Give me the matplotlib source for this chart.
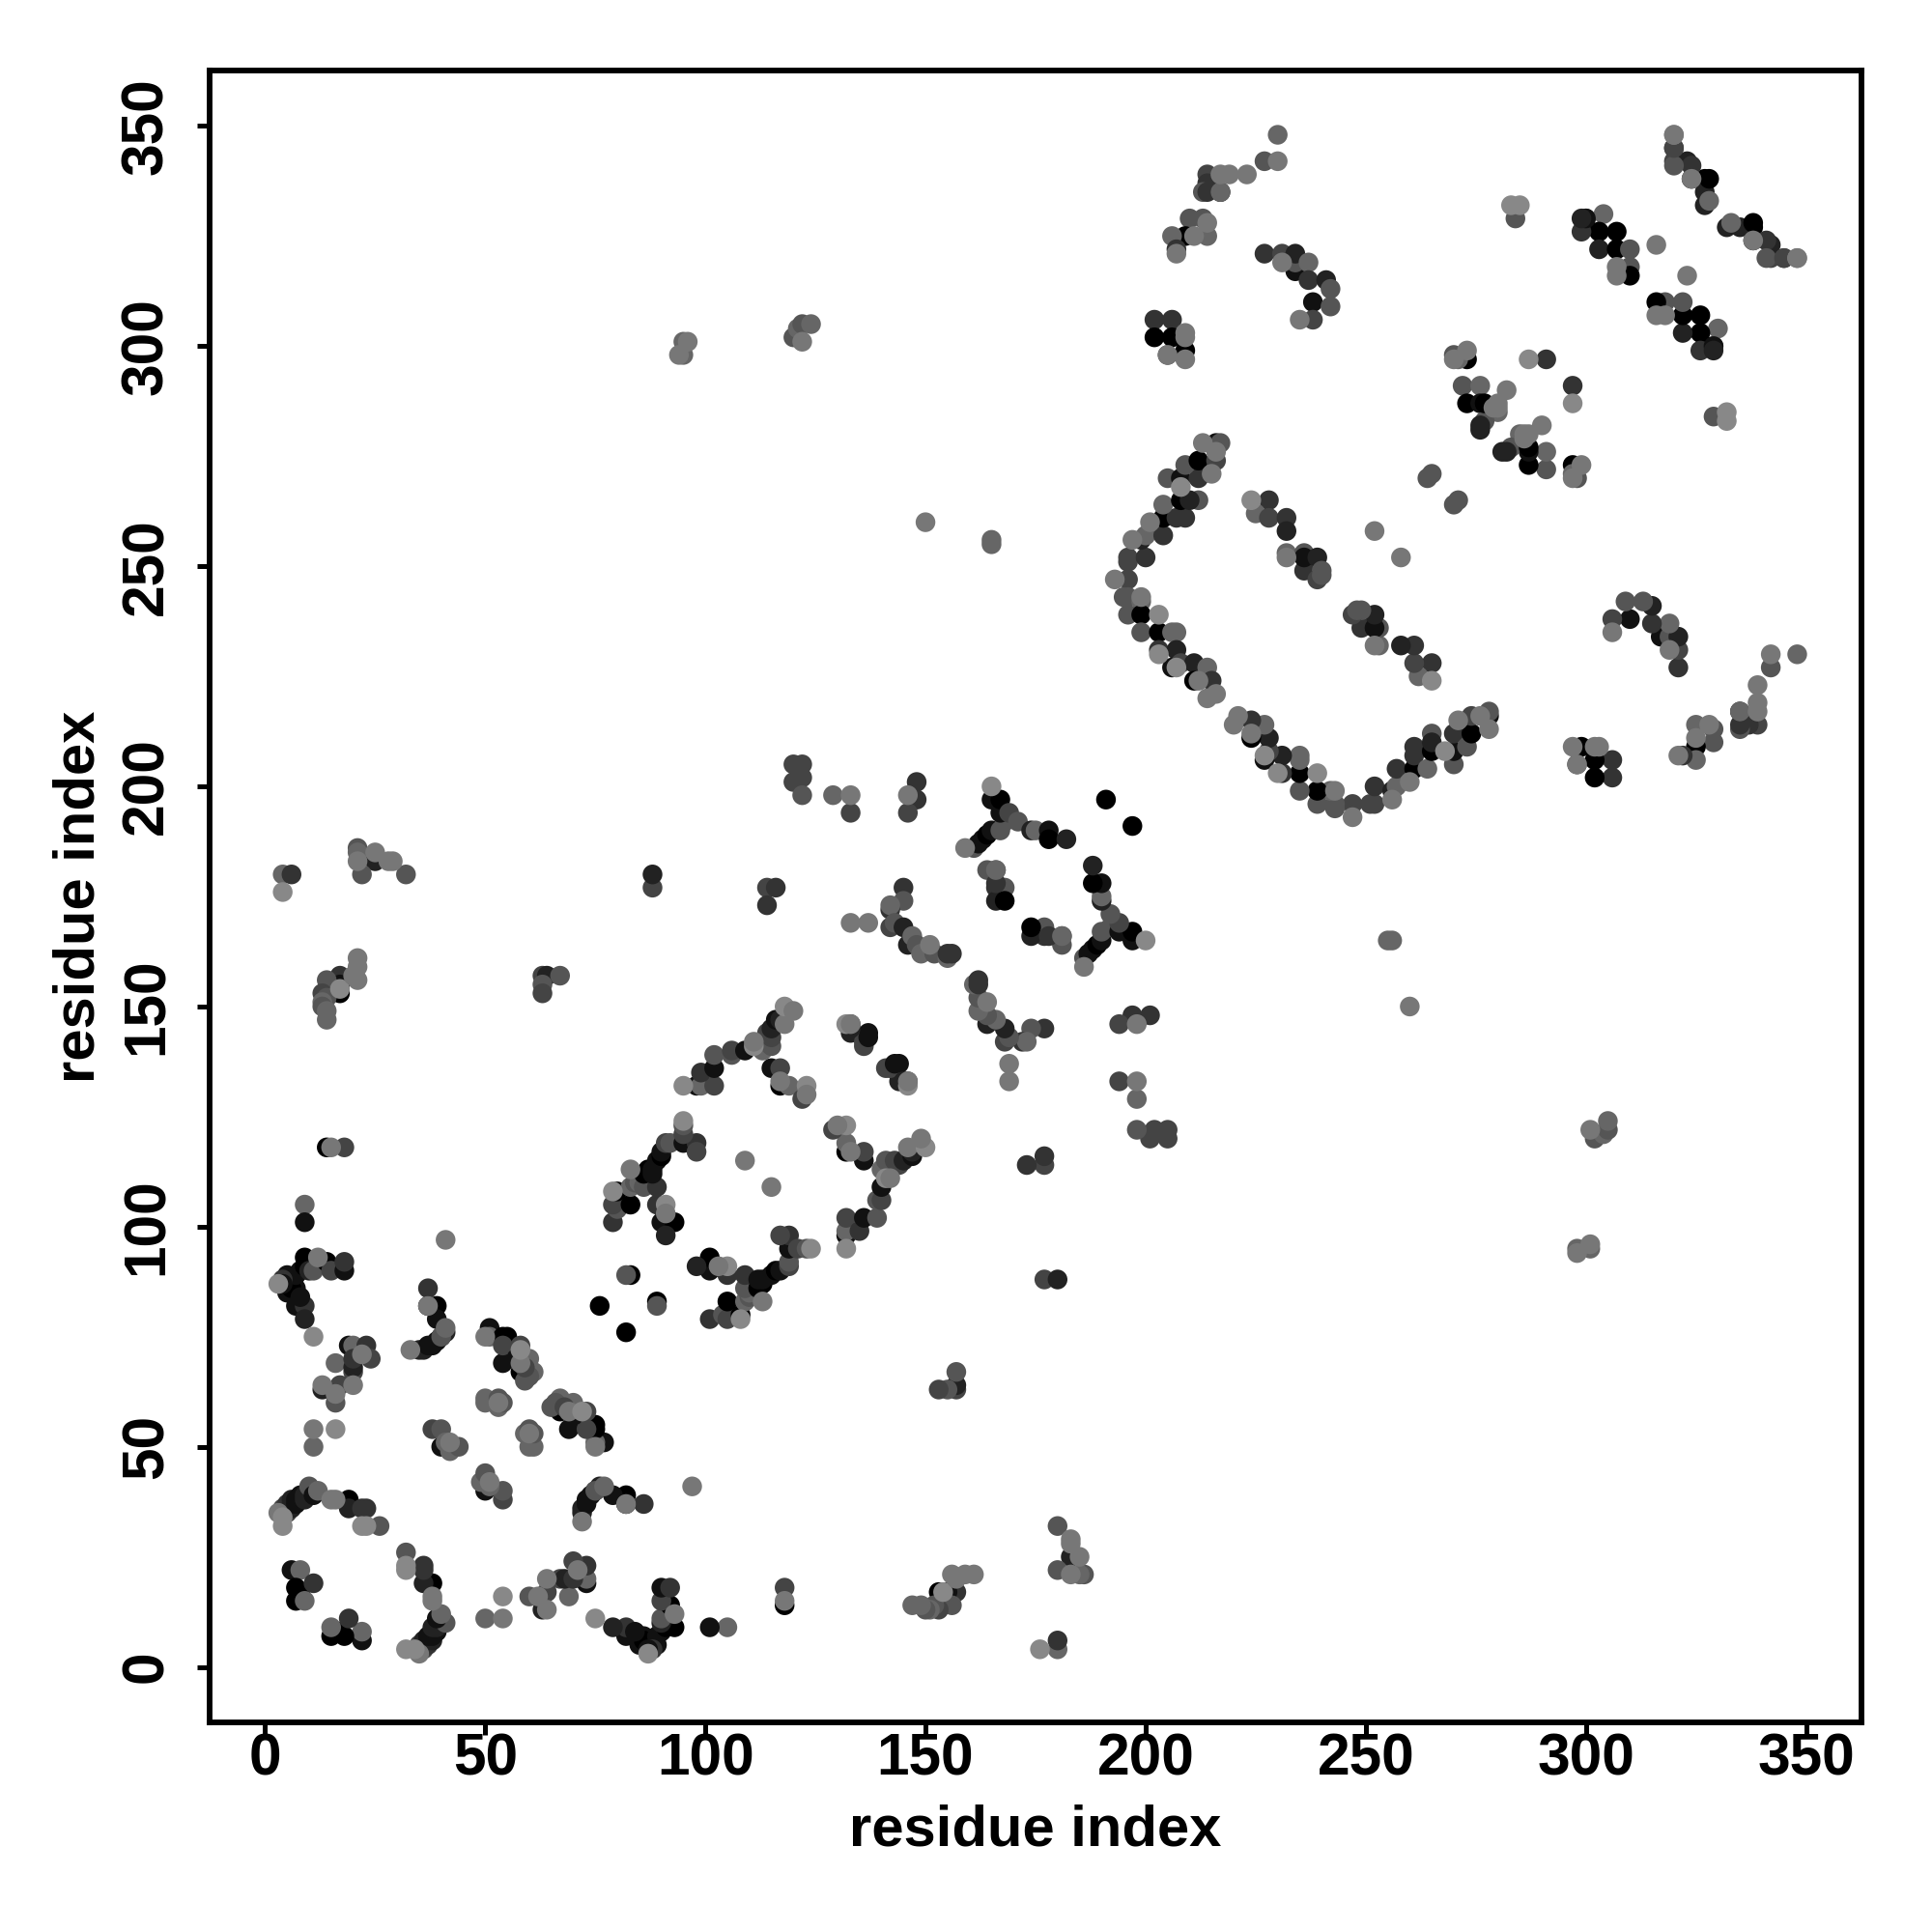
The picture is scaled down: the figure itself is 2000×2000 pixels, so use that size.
#!/usr/bin/env python3
"""Residue contact map, symmetric about the diagonal."""

import matplotlib.pyplot as plt
import numpy as np

# contacts as (residue i, residue j, level), i < j; level 0 (black) .. 9 (light)
far_left = [
    (4, 180, 6), (6, 180, 3), (4, 176, 8), (21, 186, 5), (21, 185, 6), (25, 185, 7), (25, 183, 2),
    (21, 183, 7), (22, 180, 5), (28, 183, 7), (29, 183, 7), (32, 180, 5),
    (17, 157, 3), (17, 155, 1), (17, 153, 0), (17, 154, 8), (14, 156, 5), (13, 153, 4), (14, 152, 5),
    (13, 151, 6), (13, 150, 5), (14, 149, 6), (14, 147, 6), (21, 161, 7), (21, 159, 7), (21, 156, 7),
    (20, 157, 7), (14, 118, 0), (15, 118, 7), (18, 118, 4),
    (63, 157, 4), (64, 157, 2), (67, 157, 5), (63, 155, 5), (63, 153, 4), (88, 177, 4), (88, 180, 2),
    (9, 105, 6), (9, 101, 1), (41, 97, 7), (11, 75, 8),
]
first_arc = [
    (7, 86, 1), (5, 85, 1), (5, 89, 1), (6, 86, 0), (7, 89, 1), (8, 90, 1), (9, 91, 0), (10, 92, 1),
    (9, 93, 0), (10, 90, 2), (3, 87, 8), (4, 88, 3), (4, 87, 1), (7, 82, 1), (9, 82, 3), (9, 79, 2),
    (8, 84, 1), (11, 90, 5), (14, 92, 0), (15, 90, 4), (12, 93, 7), (18, 90, 1), (18, 92, 3),
]
second_block = [
    (16, 69, 6), (13, 63, 2), (13, 64, 7), (16, 60, 5), (16, 62, 7), (17, 64, 4), (20, 64, 7), (20, 67, 4),
    (20, 68, 2), (19, 73, 1), (20, 73, 6), (23, 73, 3), (20, 70, 3), (24, 70, 4), (22, 71, 7),
    (37, 86, 3), (37, 82, 0), (39, 82, 0), (37, 82, 7), (39, 79, 1), (33, 72, 7), (35, 72, 2), (36, 72, 2),
    (37, 73, 1), (38, 73, 1), (39, 74, 1), (40, 75, 1), (41, 76, 2), (40, 75, 5), (41, 77, 6),
    (51, 77, 1), (50, 75, 7), (51, 75, 6), (54, 75, 0), (55, 75, 0), (54, 69, 1), (54, 73, 4), (58, 73, 4),
    (58, 69, 7), (59, 69, 4), (59, 67, 4), (58, 67, 0), (61, 67, 6), (59, 65, 5), (60, 66, 5), (60, 70, 6),
    (57, 70, 1), (58, 72, 8), (59, 68, 4),
    (11, 54, 7), (16, 54, 8), (11, 50, 6), (38, 54, 4), (40, 54, 5), (40, 50, 1), (41, 51, 6), (42, 51, 7),
    (42, 49, 6), (44, 50, 5), (50, 60, 6), (50, 61, 6), (53, 59, 6), (53, 61, 5), (53, 60, 7), (54, 60, 5),
]
n_term = [
    (4, 32, 8), (3, 35, 7), (4, 34, 8), (4, 36, 4), (5, 35, 4), (5, 37, 3), (6, 36, 2), (6, 37, 2), (6, 38, 2),
    (7, 37, 1), (7, 38, 1), (8, 38, 1), (8, 39, 1), (9, 38, 2), (9, 39, 2), (10, 41, 5), (11, 39, 1), (12, 40, 6),
    (15, 38, 7), (16, 38, 7), (19, 38, 0), (19, 36, 2), (22, 36, 3), (23, 36, 3), (22, 32, 8), (23, 32, 8), (26, 32, 5),
    (6, 22, 1), (8, 22, 6), (7, 18, 0), (8, 17, 0), (11, 19, 3), (7, 15, 0), (9, 15, 6),
]
helix_pairs = [
    (76, 82, 0), (83, 89, 0), (82, 89, 5),
    (79, 101, 3), (80, 104, 5), (79, 105, 4), (83, 105, 0), (80, 108, 0), (79, 108, 8), (83, 109, 6), (84, 110, 5),
    (85, 110, 6), (86, 109, 5), (89, 109, 3), (83, 113, 7), (86, 112, 0), (87, 113, 0), (88, 112, 1), (88, 113, 1),
    (89, 115, 1), (90, 116, 0), (90, 117, 1), (91, 119, 4), (92, 119, 5), (95, 119, 1), (98, 119, 3), (98, 117, 4),
    (95, 121, 4), (95, 123, 5), (95, 124, 8), (89, 105, 3), (91, 105, 8), (91, 103, 7), (90, 101, 1), (93, 101, 0), (91, 98, 2),
    (95, 132, 8), (98, 132, 1), (99, 132, 6), (102, 132, 4), (99, 135, 3), (102, 136, 1), (102, 139, 5), (106, 139, 5),
    (106, 140, 4), (109, 140, 1), (111, 141, 8), (111, 142, 7), (113, 140, 6), (115, 141, 5), (114, 144, 4),
    (115, 143, 4), (115, 145, 2), (116, 147, 1), (117, 147, 2), (118, 146, 7), (118, 150, 8), (120, 149, 7),
    (115, 136, 1), (117, 136, 4), (117, 132, 0), (117, 133, 7), (119, 132, 6), (123, 132, 8), (122, 129, 4), (123, 130, 7),
    (109, 115, 7), (132, 146, 8), (133, 146, 4), (133, 144, 2), (137, 144, 1), (136, 142, 4),
    (136, 141, 4), (137, 143, 1), (133, 145, 2), (133, 146, 7),
]
middle = [
    (120, 205, 4), (122, 205, 4), (120, 201, 4), (122, 202, 4), (122, 198, 5), (129, 198, 6), (133, 198, 7), (133, 194, 4),
    (146, 198, 7), (148, 201, 3), (148, 197, 3), (146, 194, 4), (114, 177, 4), (116, 177, 3), (114, 173, 3),
    (133, 169, 7), (137, 169, 7),
    (145, 177, 3), (145, 174, 5), (142, 172, 3), (142, 173, 6), (142, 168, 4), (143, 169, 5), (145, 168, 2),
    (146, 164, 2), (147, 166, 6), (148, 164, 5), (149, 162, 6), (151, 164, 7), (152, 162, 5), (155, 161, 6),
    (155, 162, 3), (156, 162, 3),
    (159, 186, 7), (161, 186, 5), (162, 187, 1), (163, 188, 1), (164, 189, 0), (165, 190, 1), (167, 190, 5), (168, 192, 5),
    (167, 194, 1), (165, 200, 8), (165, 197, 1), (167, 197, 0), (169, 194, 4), (171, 192, 5),
    (174, 190, 2), (175, 190, 6), (178, 190, 1), (178, 188, 0), (182, 188, 2), (191, 197, 0),
    (164, 181, 5), (166, 181, 5), (166, 177, 3), (168, 177, 5), (166, 174, 2), (168, 174, 0), (166, 178, 3), (166, 181, 6),
]
long_range = [
    (94, 298, 7), (95, 298, 6), (95, 301, 6), (96, 301, 7),
    (120, 302, 5), (122, 301, 7), (121, 304, 6), (122, 305, 5), (124, 305, 6),
    (150, 260, 7), (165, 255, 6), (165, 256, 6),
]
big_arc = [
    (193, 247, 7), (196, 247, 4), (196, 251, 4), (196, 252, 4), (200, 252, 3), (197, 256, 7), (199, 256, 2), (200, 257, 6),
    (204, 257, 3), (201, 260, 7), (204, 261, 0), (207, 261, 3), (209, 261, 3), (204, 264, 6), (208, 265, 0), (212, 265, 5),
    (210, 265, 2), (208, 268, 8), (205, 270, 5), (208, 270, 1), (212, 270, 3), (215, 271, 7), (209, 273, 5), (212, 274, 0),
    (216, 274, 4), (213, 278, 7), (216, 276, 7), (216, 278, 1), (217, 278, 5),
    (195, 243, 5), (196, 243, 5), (199, 243, 7), (199, 242, 6), (196, 239, 5), (199, 239, 0), (203, 239, 8), (199, 235, 5),
    (203, 235, 0), (203, 231, 3), (203, 230, 8), (206, 235, 6), (207, 235, 6), (207, 231, 2), (207, 227, 8), (206, 227, 1),
    (208, 228, 4), (211, 228, 2), (214, 227, 6), (211, 224, 0), (212, 224, 7), (215, 224, 3), (216, 221, 7), (214, 220, 7),
]
arc_inner = [
    (224, 265, 8), (228, 265, 3), (225, 262, 6), (228, 261, 4), (232, 261, 3), (232, 258, 2), (232, 253, 6), (232, 252, 7),
    (236, 253, 5), (236, 249, 3), (236, 252, 1), (239, 252, 2), (240, 249, 5), (239, 247, 4), (240, 248, 5),
    (252, 258, 7), (264, 270, 5), (265, 271, 5),
]
top_left = [
    (230, 348, 6), (227, 342, 5), (230, 342, 7), (223, 339, 7), (219, 339, 7), (217, 339, 7), (214, 339, 4), (214, 337, 3),
    (213, 335, 5), (214, 335, 3), (217, 335, 1), (217, 335, 6),
    (210, 329, 5), (213, 329, 5), (214, 328, 7), (214, 325, 6), (211, 325, 7), (209, 325, 0), (206, 325, 6), (207, 322, 3), (207, 321, 7),
    (227, 321, 3), (231, 319, 7), (231, 321, 4), (234, 317, 1), (234, 319, 5), (234, 321, 2), (237, 319, 6), (237, 315, 3), (241, 315, 2),
    (242, 313, 5), (238, 310, 1), (242, 309, 5), (235, 306, 7), (238, 306, 4),
    (202, 306, 3), (206, 306, 3), (202, 302, 0), (206, 302, 0), (209, 303, 7), (209, 302, 7), (205, 298, 7), (205, 298, 3),
    (209, 299, 0), (209, 297, 7),
]
top_right = [
    (320, 348, 8), (320, 345, 4), (320, 342, 4), (323, 342, 2), (324, 338, 7), (327, 338, 0), (327, 335, 2), (327, 332, 2),
    (328, 333, 6), (328, 338, 0), (324, 338, 1), (324, 341, 3), (320, 341, 5), (320, 345, 4), (320, 348, 7),
    (283, 332, 8), (285, 332, 8), (284, 329, 5),
    (300, 329, 2), (304, 330, 6), (300, 327, 3), (303, 326, 0), (307, 326, 0), (303, 322, 2), (307, 322, 0), (310, 322, 5),
    (310, 318, 5), (307, 318, 7), (307, 316, 7), (310, 316, 0), (316, 323, 7), (299, 326, 3), (300, 329, 1), (299, 329, 2),
    (270, 297, 7), (270, 298, 5), (273, 299, 7), (273, 297, 0), (271, 297, 6), (272, 291, 5), (276, 291, 6), (282, 290, 7),
    (273, 287, 0), (276, 287, 1), (280, 287, 7), (280, 285, 6), (279, 286, 7), (280, 286, 7), (277, 283, 5), (276, 282, 2),
    (276, 281, 2), (277, 287, 0), (287, 297, 8), (291, 297, 3),
]

TICKS = [0, 50, 100, 150, 200, 250, 300, 350]
AXIS_LABEL = "residue index"


def main():
    plt.rcParams["font.family"] = ["Liberation Sans", "DejaVu Sans"]
    plt.rcParams["font.weight"] = "bold"

    contacts = np.array(
        far_left + first_arc + second_block + n_term + helix_pairs + middle
        + long_range + big_arc + arc_inner + top_left + top_right
    )
    # only the lightest dots go on top, the rest stay in listing order
    contacts = contacts[np.argsort(contacts[:, 2] >= 7, kind="stable")]
    i, j, level = contacts.T
    gray = level * 17 / 255.0
    colors = np.column_stack([gray, gray, gray])

    fig = plt.figure(figsize=(10, 10), dpi=200)
    ax = fig.add_axes([0.1085, 0.1085, 0.855, 0.855])

    ax.scatter(
        np.concatenate([i, j]),
        np.concatenate([j, i]),
        c=np.vstack([colors, colors]),
        s=54,
        linewidths=0,
        zorder=3,
    )

    ax.set_xlim(-12.6, 362.6)
    ax.set_ylim(-12.6, 362.6)
    ax.set_xticks(TICKS)
    ax.set_yticks(TICKS)
    ax.tick_params(axis="both", length=4.8, width=1.8, labelsize=21.8)
    ax.tick_params(axis="x", pad=-1)
    ax.tick_params(axis="y", pad=8)
    for label in ax.get_yticklabels():
        label.set_rotation(90)
        label.set_va("center")
    for spine in ax.spines.values():
        spine.set_linewidth(2.1)

    ax.set_xlabel(AXIS_LABEL, fontsize=21.5, fontweight="bold", labelpad=6)
    ax.set_ylabel(AXIS_LABEL, fontsize=21.5, fontweight="bold", labelpad=5.5)

    fig.savefig("out.png", dpi=200, facecolor="white")
    plt.close(fig)


if __name__ == "__main__":
    main()
